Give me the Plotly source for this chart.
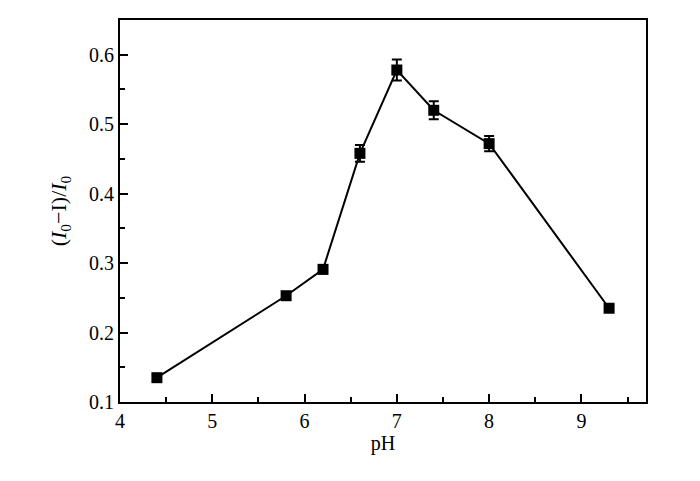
import plotly.graph_objects as go

ph = [4.4, 5.8, 6.2, 6.6, 7.0, 7.4, 8.0, 9.3]
ratio = [0.135, 0.253, 0.291, 0.458, 0.578, 0.520, 0.472, 0.235]
err = [0.005, 0.005, 0.006, 0.012, 0.015, 0.013, 0.011, 0.004]

font = dict(family="Liberation Serif, Times New Roman, serif", size=20, color="black")
title_font = dict(family="Liberation Serif, Times New Roman, serif", size=22, color="black")

fig = go.Figure()
fig.add_trace(go.Scatter(
    x=ph, y=ratio, mode="lines+markers",
    line=dict(color="black", width=2),
    marker=dict(symbol="square", size=11, color="black"),
    error_y=dict(type="data", array=err, visible=True, color="black", thickness=2, width=5),
    showlegend=False,
))

axis_common = dict(
    showline=True, linecolor="black", linewidth=2, mirror=True,
    ticks="inside", ticklen=8, tickwidth=2, tickcolor="black",
    showgrid=False, zeroline=False, tickfont=font,
)

fig.update_xaxes(
    range=[4, 9.7], dtick=1, tick0=4,
    minor=dict(ticks="inside", ticklen=5, tickwidth=2, tickcolor="black", dtick=0.5, tick0=4),
    title=dict(text="pH", font=font, standoff=2),
    **axis_common,
)
fig.update_yaxes(
    range=[0.1, 0.65], dtick=0.1, tick0=0.1, tickformat=".1f",
    minor=dict(ticks="inside", ticklen=5, tickwidth=2, tickcolor="black", dtick=0.05, tick0=0.1),
    title=dict(text="(<i>I</i><sub>0</sub>−I)/<i>I</i><sub>0</sub>", font=title_font, standoff=16),
    **axis_common,
)

fig.update_layout(
    width=700, height=481,
    margin=dict(l=112, r=62, t=10, b=87),
    plot_bgcolor="white", paper_bgcolor="white",
    font=font,
)

fig.write_html("out.html")
